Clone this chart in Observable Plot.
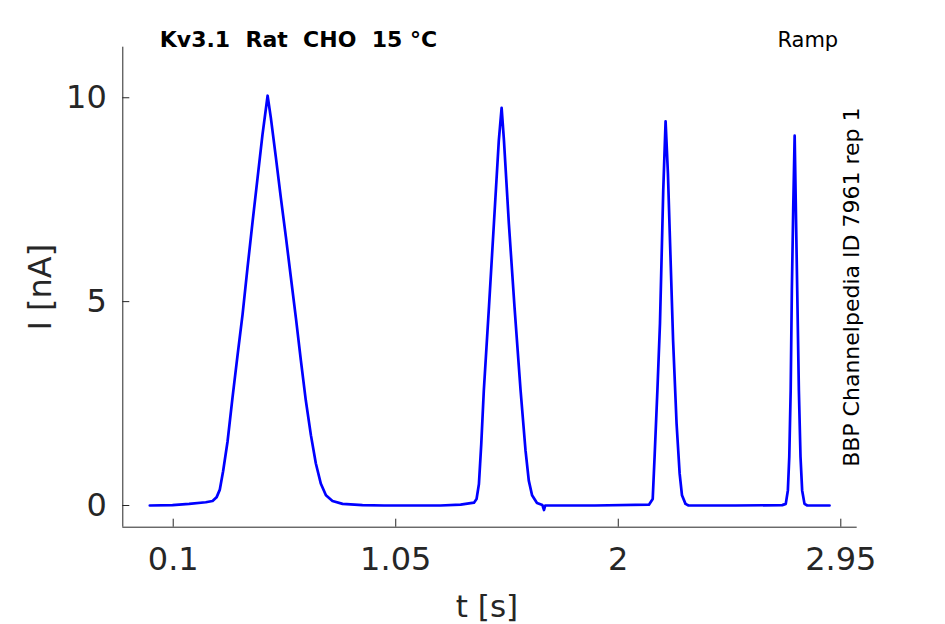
<!DOCTYPE html>
<html><head><meta charset="utf-8">
<script src="https://cdn.jsdelivr.net/npm/d3@7"></script>
<script src="https://cdn.jsdelivr.net/npm/@observablehq/plot@0.6"></script>
<style>
html,body{margin:0;padding:0;background:#fff;}
svg text{white-space:pre;}
</style></head><body><div id="chart"></div>
<script>
const time = [
  0.000, 0.097, 0.168, 0.239, 0.268, 0.285, 0.299, 0.313, 0.332, 0.353, 0.375, 0.396, 0.417, 0.439, 0.460, 0.481, 0.503,
  0.517, 0.538, 0.559, 0.581, 0.602, 0.624, 0.645, 0.666, 0.688, 0.709, 0.730, 0.752, 0.780, 0.823, 0.908,
  1.000, 1.241, 1.327, 1.384, 1.395, 1.405, 1.415, 1.426, 1.448, 1.469, 1.490, 1.502,
  1.512, 1.533, 1.557, 1.583, 1.604, 1.618, 1.632, 1.653, 1.676, 1.683, 1.688,
  1.900, 2.131, 2.147, 2.155, 2.167, 2.178, 2.185, 2.192, 2.202,
  2.212, 2.223, 2.234, 2.249, 2.262, 2.272, 2.287, 2.300,
  2.500, 2.700, 2.715, 2.724, 2.730, 2.736, 2.741, 2.747, 2.753,
  2.758, 2.764, 2.771, 2.778, 2.785, 2.795, 2.807, 2.902
];
const current = [
  0.00, 0.01, 0.04, 0.08, 0.11, 0.20, 0.39, 0.84, 1.57, 2.64, 3.70, 4.68, 5.82, 6.97, 8.03, 9.09, 10.05,
  9.50, 8.55, 7.57, 6.59, 5.61, 4.59, 3.56, 2.58, 1.72, 1.03, 0.54, 0.25, 0.11, 0.04, 0.01,
  0.00, 0.00, 0.02, 0.07, 0.16, 0.52, 1.50, 2.82, 4.87, 6.91, 8.95, 9.75,
  8.95, 6.91, 4.87, 2.82, 1.35, 0.61, 0.25, 0.06, 0.01, -0.11, 0.00,
  0.00, 0.02, 0.16, 1.19, 2.82, 4.46, 6.09, 7.73, 9.42,
  8.14, 6.09, 4.05, 2.00, 0.78, 0.25, 0.04, 0.00,
  0.00, 0.01, 0.04, 0.37, 1.19, 2.82, 5.27, 7.32, 9.07,
  7.32, 5.27, 2.82, 1.19, 0.37, 0.04, 0.00, 0.00
];
const xTicks = [0.1, 1.05, 2, 2.95];
const xTickLabels = ["0.1", "1.05", "2", "2.95"];
const yTicks = [0, 5, 10];
const yTickLabels = ["0", "5", "10"];
const xDomain = [-0.1152, 3.020];
const yDomain = [-0.532, 11.24];
const title = "Kv3.1  Rat  CHO  15 °C";
const protocol = "Ramp";
const source = "BBP Channelpedia ID 7961 rep 1";
const xLabel = "t [s]";
const yLabel = "I [nA]";

const trace = time.map((t, i) => ({t, I: current[i]}));
const W = 945, H = 624, mL = 122.3, mR = 88.3, mT = 46.7, mB = 97.3;
const frameW = W - mL - mR, frameH = H - mT - mB;
const axisColor = "#262626";

const chart = Plot.plot({
  width: W, height: H,
  marginLeft: mL, marginRight: mR, marginTop: mT, marginBottom: mB,
  x: {domain: xDomain, axis: null},
  y: {domain: yDomain, axis: null},
  style: {fontFamily: "DejaVu Sans", background: "white", overflow: "visible"},
  marks: [
    Plot.ruleY([yDomain[0]], {stroke: axisColor, strokeWidth: 1}),
    Plot.ruleX([xDomain[0]], {stroke: axisColor, strokeWidth: 1}),
    Plot.tickX(xTicks, {x: d => d, stroke: axisColor, insetTop: frameH - 8}),
    Plot.tickY(yTicks, {y: d => d, stroke: axisColor, insetRight: frameW - 7}),
    Plot.text(xTicks, {x: d => d, text: (d, i) => xTickLabels[i], frameAnchor: "bottom", dy: 33,
      lineAnchor: "middle", textAnchor: "middle", fontSize: 32, fill: axisColor}),
    Plot.text(yTicks, {y: d => d, text: (d, i) => yTickLabels[i], frameAnchor: "left", dx: -16,
      lineAnchor: "middle", textAnchor: "end", fontSize: 32, fill: axisColor}),
    Plot.line(trace, {x: "t", y: "I", stroke: "#0000ff", strokeWidth: 2.7, strokeLinejoin: "round"}),
    Plot.text([title], {text: d => d, frameAnchor: "top-left", dx: 37, textAnchor: "start",
      lineAnchor: "bottom", fontWeight: "bold", fontSize: 22, fill: "black"}),
    Plot.text([protocol], {text: d => d, frameAnchor: "top-right", dx: -19, textAnchor: "end",
      lineAnchor: "bottom", fontSize: 21, fill: "black"}),
    Plot.text([source], {text: d => d, frameAnchor: "right", dx: 1.6, rotate: -90, textAnchor: "middle",
      lineAnchor: "bottom", fontSize: 22, fill: "black"}),
    Plot.text([yLabel], {text: d => d, frameAnchor: "left", dx: -72.3, rotate: -90, textAnchor: "middle",
      lineAnchor: "bottom", fontSize: 32, fill: axisColor}),
    Plot.text([xLabel], {text: d => d, frameAnchor: "bottom", dx: -3, dy: 90, textAnchor: "middle",
      lineAnchor: "bottom", fontSize: 31, fill: axisColor})
  ]
});
document.getElementById("chart").appendChild(chart);
</script>
</body></html>
